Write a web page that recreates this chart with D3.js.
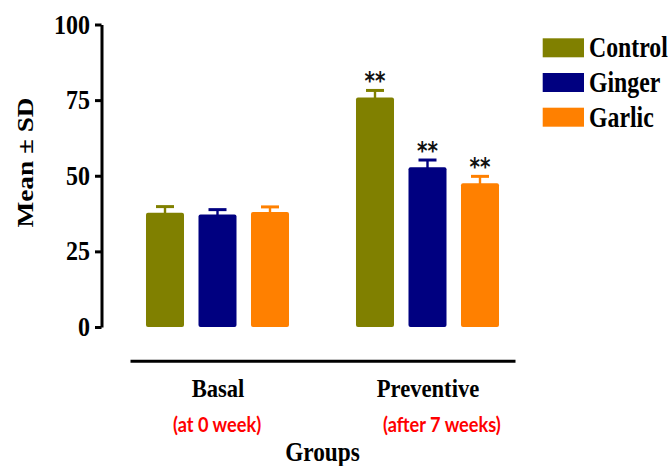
<!DOCTYPE html>
<html>
<head>
<meta charset="utf-8">
<script src="https://cdn.jsdelivr.net/npm/d3@7"></script>
<style>
  html, body { margin: 0; padding: 0; background: #ffffff; }
  svg { display: block; }
</style>
</head>
<body>
<svg id="chart" width="670" height="466"></svg>
<script>
// ---- data ----
const groups = ["Basal", "Preventive"];
const groupNotes = ["(at 0 week)", "(after 7 weeks)"];
const series = ["Control", "Ginger", "Garlic"];
const controlMean = [37.8, 75.9];
const gingerMean = [37.2, 52.8];
const garlicMean = [38.0, 47.5];
const controlSD = [2.0, 2.3];
const gingerSD = [1.6, 2.4];
const garlicSD = [1.7, 2.3];
const controlSig = ["", "**"];
const gingerSig = ["", "**"];
const garlicSig = ["", "**"];
const yTicks = [0, 25, 50, 75, 100];

// ---- styles ----
const palette = { Control: "#808000", Ginger: "#000080", Garlic: "#ff8000" };
const serif = "'Liberation Serif', 'Times New Roman', serif";

const means = [controlMean, gingerMean, garlicMean];
const sds = [controlSD, gingerSD, garlicSD];
const sigs = [controlSig, gingerSig, garlicSig];
const rows = [];
groups.forEach((g, gi) => {
  series.forEach((s, si) => {
    rows.push({ group: g, series: s, mean: means[si][gi], sd: sds[si][gi], sig: sigs[si][gi] });
  });
});

const svg = d3.select("#chart");

// ---- scales ----
const y = d3.scaleLinear().domain([0, 100]).range([327, 24.5]);
const x0 = d3.scalePoint().domain(groups).range([130, 515]).padding(0.41667);
const x1 = d3.scaleBand().domain(series).range([-105, 105])
  .paddingInner(0.276).paddingOuter(0.638);

// ---- y axis ----
const yAxis = svg.append("g")
  .attr("transform", "translate(101.5,0)")
  .call(d3.axisLeft(y).tickValues(yTicks).tickSize(6.5).tickSizeOuter(0).tickPadding(5));
yAxis.select(".domain").attr("stroke", "#000").attr("stroke-width", 3);
yAxis.selectAll(".tick line").attr("stroke", "#000").attr("stroke-width", 3);
yAxis.selectAll(".tick text")
  .attr("fill", "#000")
  .attr("font-family", serif)
  .attr("font-weight", "bold")
  .attr("font-size", 24)
  .attr("dy", null)
  .attr("y", 0)
  .attr("transform", "translate(0,8.5) scale(1,1.15)");

svg.append("text")
  .attr("transform", "translate(33,162.5) rotate(-90) scale(1.2,1)")
  .attr("text-anchor", "middle")
  .attr("font-family", serif)
  .attr("font-weight", "bold")
  .attr("font-size", 22.7)
  .attr("fill", "#000")
  .text("Mean ± SD");

// ---- x axis ----
const xAxis = svg.append("g")
  .attr("transform", "translate(0,360.7)")
  .call(d3.axisBottom(x0).tickSize(0).tickSizeOuter(0).tickPadding(0));
xAxis.select(".domain").attr("stroke", "#000").attr("stroke-width", 3);
xAxis.selectAll(".tick text")
  .attr("fill", "#000")
  .attr("font-family", serif)
  .attr("font-weight", "bold")
  .attr("font-size", 22.6)
  .attr("y", 0)
  .attr("dy", null)
  .attr("transform", "translate(0,36) scale(1,1.13)");

svg.append("g").selectAll("text")
  .data(groups)
  .join("text")
  .attr("transform", g => `translate(${x0(g) - 44.5},431.7) scale(1,1.1)`)
  .attr("font-family", "Lato, 'Open Sans', sans-serif")
  .attr("font-weight", "bold")
  .attr("font-size", 18.2)
  .attr("fill", "#ff0000")
  .text((g, i) => groupNotes[i]);

svg.append("text")
  .attr("transform", "translate(322.5,461) scale(1,1.18)")
  .attr("text-anchor", "middle")
  .attr("font-family", serif)
  .attr("font-weight", "bold")
  .attr("font-size", 23.3)
  .attr("fill", "#000")
  .text("Groups");

// ---- bars ----
const barG = svg.append("g");
const cx = d => x0(d.group) + x1(d.series) + x1.bandwidth() / 2;

barG.selectAll("rect")
  .data(rows)
  .join("rect")
  .attr("x", d => x0(d.group) + x1(d.series))
  .attr("y", d => y(d.mean))
  .attr("width", x1.bandwidth())
  .attr("height", d => y(0) - y(d.mean))
  .attr("rx", 2)
  .attr("fill", d => palette[d.series]);

// error bars (upper half only)
barG.selectAll("line.stem")
  .data(rows)
  .join("line")
  .attr("class", "stem")
  .attr("x1", cx).attr("x2", cx)
  .attr("y1", d => y(d.mean) + 1)
  .attr("y2", d => y(d.mean + d.sd))
  .attr("stroke", d => palette[d.series])
  .attr("stroke-width", 2.4);

barG.selectAll("line.cap")
  .data(rows)
  .join("line")
  .attr("class", "cap")
  .attr("x1", d => cx(d) - 9).attr("x2", d => cx(d) + 9)
  .attr("y1", d => y(d.mean + d.sd))
  .attr("y2", d => y(d.mean + d.sd))
  .attr("stroke", d => palette[d.series])
  .attr("stroke-width", 3);

// significance marks
barG.selectAll("text.sig")
  .data(rows.filter(d => d.sig))
  .join("text")
  .attr("class", "sig")
  .attr("transform", d => `translate(${cx(d)},${y(d.mean + d.sd) - 1}) scale(1,1.25)`)
  .attr("text-anchor", "middle")
  .attr("font-family", "'DejaVu Sans', sans-serif")
  .attr("font-weight", "bold")
  .attr("font-size", 20)
  .attr("fill", "#111")
  .text(d => d.sig);

// ---- legend ----
const legend = svg.append("g").attr("transform", "translate(542.7,38.3)");
const legRow = legend.selectAll("g")
  .data(series)
  .join("g")
  .attr("transform", (s, i) => `translate(0,${i * 34.7})`);
legRow.append("rect")
  .attr("width", 41.3)
  .attr("height", 19)
  .attr("fill", s => palette[s]);
legRow.append("text")
  .attr("transform", "translate(46.3,19) scale(1,1.2)")
  .attr("font-family", serif)
  .attr("font-weight", "bold")
  .attr("font-size", 23.8)
  .attr("fill", "#000")
  .text(s => s);
</script>
</body>
</html>
